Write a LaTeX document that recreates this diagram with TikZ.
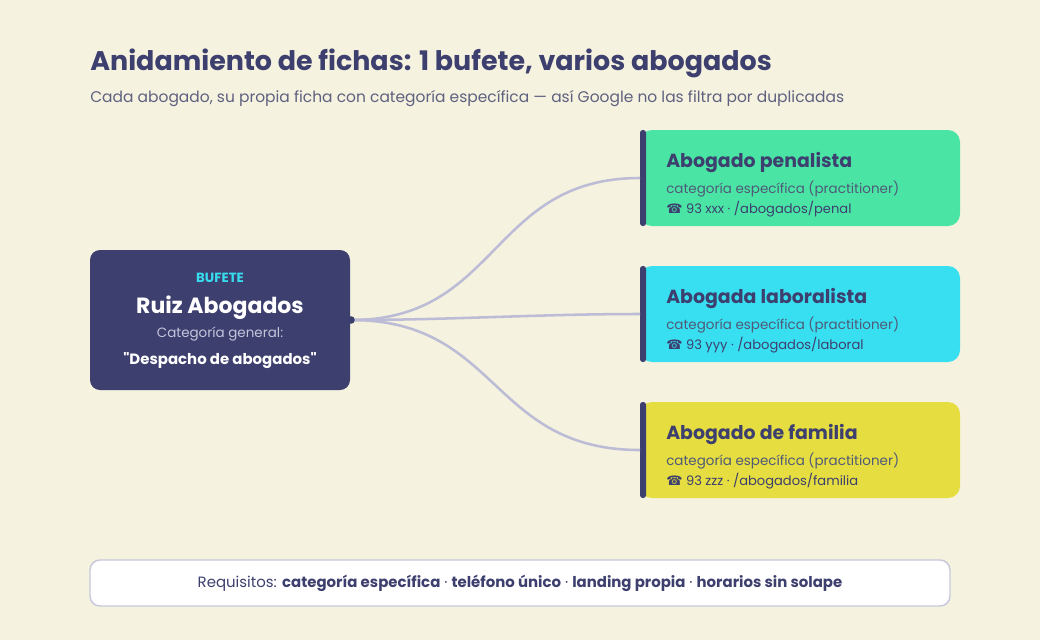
\documentclass[tikz,border=0pt]{standalone}
\usepackage{fontspec}
\setmainfont{Poppins}[Ligatures=TeXOff]
\newfontfamily\symfont{DejaVu Sans}
\definecolor{bg}{HTML}{F5F2DF}
\definecolor{navy}{HTML}{3D3F6E}
\definecolor{subgray}{HTML}{5F6180}
\definecolor{cyanT}{HTML}{38DCEF}
\definecolor{lightT}{HTML}{C4C5DC}
\definecolor{conn}{HTML}{BCBCD6}
\definecolor{cgreen}{HTML}{4AE5A5}
\definecolor{ccyan}{HTML}{38DFF0}
\definecolor{cyellow}{HTML}{E6DD40}
\definecolor{bord}{HTML}{C8C8DC}
\definecolor{cardsub}{HTML}{4F5A78}
\begin{document}
\begin{tikzpicture}[x=0.75pt,y=-0.75pt,
  txt/.style={inner sep=0pt, anchor=base west},
  ctxt/.style={inner sep=0pt, anchor=base},
  link/.style={draw=conn, line width=1.9pt},
  card/.style={rounded corners=9pt},
]
\fill[bg] (0,0) rectangle (1040,640);
\useasboundingbox (0,0) rectangle (1040,640);
% title
\node[txt, text=navy, font=\fontsize{20.2}{23}\selectfont\bfseries] (title) at (90,70) {Anidamiento de fichas: 1 bufete, varios abogados};
\node[txt, text=subgray, font=\fontsize{11.6}{13}\selectfont] (sub) at (90,102) {Cada abogado, su propia ficha con categoría específica — así Google no las filtra por duplicadas};
% left box
\fill[navy, rounded corners=7.5pt] (90,250) rectangle (350,390);
\node[ctxt, text=cyanT, font=\fontsize{10}{11}\selectfont\bfseries] (bt) at (220,282) {BUFETE};
\node[ctxt, text=white, font=\fontsize{16.5}{18}\selectfont\bfseries] (name) at (220,313) {Ruiz Abogados};
\node[ctxt, text=lightT, font=\fontsize{10.1}{12}\selectfont] (cg) at (220,337) {Categoría general:};
\node[ctxt, text=white, font=\fontsize{11.2}{13}\selectfont\bfseries] (dd) at (220,364) {"Despacho de abogados"};
\coordinate (src) at (351,320);
% cards
\foreach \y/\col/\nm/\ti/\ph in {130/cgreen/p/Abogado penalista/{93 xxx · /abogados/penal},
                                266/ccyan/l/Abogada laboralista/{93 yyy · /abogados/laboral},
                                402/cyellow/f/Abogado de familia/{93 zzz · /abogados/familia}}{
  \fill[\col, card] (640,\y) rectangle (960,\y+96);
  \fill[navy, rounded corners=2pt] (640,\y) rectangle (646,\y+96);
  \coordinate (\nm) at (640,\y+48);
  \node[txt, text=navy, font=\fontsize{14.2}{16}\selectfont\bfseries] (\nm t) at (666,\y+37) {\ti};
  \node[txt, text=cardsub, font=\fontsize{10.1}{12}\selectfont] (\nm s) at (666,\y+63) {categoría específica (practitioner)};
  \node[txt, text=navy, font=\fontsize{9.8}{11}\selectfont] (\nm ph) at (666,\y+83) {{\symfont ☎} \ph};
}
% connectors
\draw[link] (src) .. controls (500,320) and (490,178) .. (p);
\draw[link] (src) .. controls (450,320) and (540,314) .. (l);
\draw[link] (src) .. controls (500,320) and (490,450) .. (f);
\fill[navy] (src) circle (3.8);
% bottom
\draw[bord, fill=white, line width=1.1pt, rounded corners=7.5pt] (90,560) rectangle (950,606);
\node[ctxt, text=navy, font=\fontsize{11.2}{12}\selectfont] (req) at (520,587) {Requisitos: \textbf{categoría específica} · \textbf{teléfono único} · \textbf{landing propia} · \textbf{horarios sin solape}};
\end{tikzpicture}
\end{document}
